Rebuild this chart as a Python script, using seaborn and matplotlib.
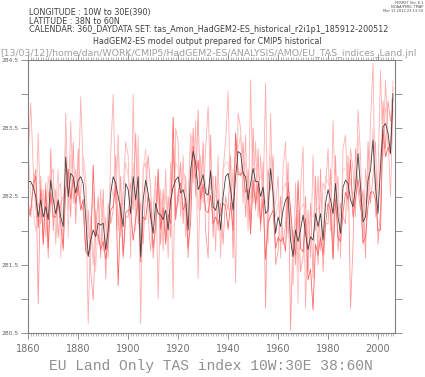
import numpy as np
import pandas as pd
import matplotlib
matplotlib.use("Agg")
import matplotlib.pyplot as plt
from matplotlib.ticker import MultipleLocator
import seaborn as sns

# annual values, 1860-2006 (K)
years = list(range(1860, 2007))

ens_mean = [
    282.72, 282.72, 282.64, 282.50, 282.20, 282.45, 282.20, 282.35, 282.16, 282.74,
    282.45, 282.25, 282.45, 282.20, 282.06, 283.08, 282.50, 282.84, 282.79, 282.55,
    282.74, 282.79, 282.69, 282.20, 281.62, 281.86, 282.01, 281.91, 282.11, 282.08,
    282.11, 281.72, 282.01, 282.55, 282.79, 282.69, 282.50, 282.30, 282.06, 282.69,
    282.60, 282.25, 282.79, 282.45, 282.79, 281.62, 282.45, 282.74, 282.55, 282.20,
    281.96, 282.40, 282.25, 282.23, 282.16, 282.30, 282.01, 282.45, 282.64, 282.74,
    282.79, 282.55, 282.60, 282.45, 282.01, 282.89, 283.16, 282.99, 282.60, 282.69,
    282.82, 282.55, 282.52, 282.88, 282.35, 282.30, 282.45, 282.01, 282.50, 282.79,
    282.84, 282.60, 282.30, 282.79, 283.16, 283.13, 282.84, 282.79, 282.45, 282.69,
    282.91, 282.72, 282.72, 282.50, 282.64, 282.25, 282.30, 282.91, 282.55, 281.96,
    282.20, 282.06, 282.30, 282.45, 282.50, 281.86, 281.62, 282.01, 281.84, 282.01,
    282.23, 281.96, 281.72, 281.91, 281.86, 282.25, 282.06, 282.25, 281.86, 282.40,
    282.60, 282.45, 282.25, 282.69, 282.20, 281.96, 282.64, 282.74, 282.69, 282.45,
    282.35, 282.64, 283.13, 282.64, 282.13, 282.20, 282.74, 282.89, 283.33, 282.64,
    282.25, 282.94, 283.52, 283.57, 283.43, 283.13, 284.01,
]

member_1 = [
    283.10, 283.87, 282.90, 282.30, 283.43, 282.10, 282.60, 281.90, 282.50, 282.80,
    282.90, 281.80, 282.60, 282.70, 281.70, 283.72, 282.30, 283.60, 282.40, 282.90,
    282.50, 283.96, 282.90, 282.60, 280.64, 282.20, 281.50, 282.30, 281.80, 282.60,
    281.70, 282.20, 281.60, 283.10, 284.00, 282.40, 283.40, 281.90, 282.60, 283.30,
    283.10, 281.60, 284.00, 282.20, 283.20, 280.64, 282.90, 283.00, 282.20, 281.70,
    282.30, 282.80, 281.00, 282.60, 281.70, 282.90, 281.60, 283.00, 281.00, 283.50,
    283.30, 282.20, 283.10, 281.90, 282.50, 283.40, 282.70, 283.60, 281.30, 283.10,
    282.40, 283.20, 283.82, 282.60, 282.80, 281.70, 283.10, 281.60, 282.90, 283.30,
    284.04, 282.30, 282.90, 281.23, 283.72, 283.50, 282.40, 283.40, 282.00, 284.21,
    282.40, 283.30, 282.20, 283.10, 282.40, 284.16, 281.80, 283.72, 282.30, 282.40,
    282.80, 281.60, 282.90, 283.30, 281.90, 282.40, 281.20, 282.70, 281.40, 282.60,
    283.23, 280.86, 282.30, 281.60, 283.10, 282.00, 282.80, 281.70, 282.70, 282.60,
    283.20, 282.00, 283.62, 282.40, 282.80, 281.60, 283.20, 283.40, 282.30, 283.20,
    282.90, 282.20, 283.77, 283.10, 281.80, 282.90, 282.40, 283.60, 284.45, 282.20,
    282.80, 284.35, 283.10, 284.20, 283.40, 282.50, 283.80,
]

member_2 = [
    282.40, 282.20, 282.70, 282.90, 280.93, 282.80, 281.80, 282.70, 281.60, 283.20,
    282.00, 282.60, 281.90, 282.40, 282.50, 282.60, 282.90, 282.20, 283.30, 282.10,
    283.20, 282.40, 282.30, 281.70, 282.30, 281.40, 280.98, 282.00, 282.50, 281.60,
    282.60, 281.30, 282.40, 282.10, 282.30, 283.10, 282.00, 282.80, 281.60, 282.20,
    282.20, 282.70, 282.30, 283.43, 282.10, 282.40, 281.80, 282.60, 283.10, 282.60,
    281.60, 282.10, 282.70, 281.80, 282.60, 281.90, 282.50, 281.90, 283.20, 282.30,
    282.40, 283.00, 282.10, 282.80, 281.60, 282.60, 283.50, 282.50, 283.77, 282.30,
    283.30, 282.00, 281.60, 283.40, 281.90, 282.80, 282.00, 282.40, 281.80, 282.50,
    282.30, 283.10, 281.60, 283.40, 282.90, 282.80, 283.30, 282.20, 282.90, 282.10,
    283.50, 282.30, 283.20, 282.00, 283.00, 280.86, 282.90, 282.60, 283.10, 281.50,
    281.70, 282.50, 281.80, 282.10, 283.00, 280.54, 282.00, 281.50, 282.30, 281.40,
    281.60, 282.50, 281.40, 282.40, 281.30, 282.80, 281.50, 282.90, 281.40, 282.10,
    282.10, 282.90, 281.60, 283.10, 281.70, 282.40, 282.20, 282.10, 283.10, 280.86,
    281.80, 283.20, 282.60, 282.30, 282.60, 281.60, 283.30, 282.40, 282.80, 283.30,
    281.80, 282.30, 283.90, 283.20, 283.90, 283.60, 284.10,
]

member_3 = [
    283.20, 282.50, 282.30, 282.00, 282.40, 282.30, 282.60, 282.20, 282.80, 282.40,
    282.70, 282.40, 282.90, 281.60, 282.30, 283.40, 281.90, 283.10, 282.70, 282.80,
    282.60, 282.50, 283.10, 282.80, 281.90, 282.10, 282.60, 281.40, 282.20, 282.40,
    282.30, 281.80, 282.20, 282.70, 282.50, 282.60, 283.40, 282.10, 282.40, 283.00,
    282.80, 282.40, 283.00, 282.00, 283.40, 281.90, 282.90, 283.20, 282.40, 282.10,
    282.20, 282.60, 282.40, 282.50, 282.00, 282.60, 281.70, 282.80, 282.70, 283.00,
    282.90, 282.30, 282.90, 282.70, 282.20, 283.43, 283.20, 283.10, 282.30, 282.90,
    282.90, 282.70, 282.40, 283.00, 282.60, 282.50, 282.60, 281.80, 282.90, 283.00,
    283.00, 282.60, 282.70, 283.10, 283.20, 283.40, 282.80, 283.00, 282.30, 282.50,
    283.00, 282.90, 282.80, 282.80, 282.70, 282.40, 282.40, 283.10, 282.50, 282.20,
    282.40, 282.30, 282.60, 282.70, 282.40, 282.20, 281.40, 282.20, 280.93, 282.30,
    282.40, 282.30, 281.90, 282.20, 282.20, 282.40, 282.30, 282.50, 281.70, 282.80,
    282.70, 282.60, 282.20, 282.80, 282.40, 282.00, 282.90, 282.90, 282.90, 282.70,
    282.50, 282.70, 283.40, 282.70, 282.30, 282.40, 282.90, 283.00, 283.50, 282.60,
    282.40, 283.10, 283.60, 283.80, 283.20, 283.30, 284.20,
]

member_4 = [
    282.20, 282.30, 282.66, 282.80, 282.04, 282.60, 281.80, 282.60, 281.74, 282.56,
    282.20, 282.20, 282.40, 282.10, 281.74, 282.60, 282.90, 282.46, 282.76, 282.40,
    282.66, 282.30, 282.46, 281.70, 281.64, 281.74, 282.96, 281.94, 281.94, 281.72,
    281.84, 281.58, 281.84, 282.30, 282.36, 282.66, 281.20, 282.40, 281.64, 282.26,
    282.30, 282.30, 281.86, 282.17, 282.46, 281.54, 282.20, 282.16, 282.50, 282.40,
    281.74, 282.10, 282.90, 282.02, 282.34, 281.80, 282.24, 282.10, 283.66, 282.16,
    282.56, 282.70, 282.30, 282.40, 281.74, 282.13, 283.24, 282.76, 283.03, 282.46,
    282.68, 282.30, 282.26, 282.52, 282.10, 282.20, 282.10, 282.24, 282.40, 282.36,
    282.02, 282.40, 282.00, 283.43, 282.82, 282.82, 282.86, 282.56, 282.60, 281.95,
    282.74, 282.38, 282.68, 282.10, 282.46, 281.58, 282.10, 282.22, 282.30, 281.74,
    281.90, 281.84, 281.90, 281.70, 282.70, 282.30, 281.88, 281.64, 282.73, 281.74,
    281.69, 282.18, 281.28, 281.44, 280.84, 281.80, 281.64, 281.90, 281.64, 282.10,
    282.40, 282.30, 281.58, 282.46, 281.90, 281.84, 282.26, 282.56, 282.46, 283.04,
    282.20, 282.46, 282.75, 282.46, 281.82, 281.90, 282.36, 282.56, 282.57, 282.46,
    282.00, 282.01, 283.48, 283.08, 283.22, 283.12, 283.94,
]

members = {"r1": member_1, "r2": member_2, "r3": member_3, "r4": member_4}
member_colors = {"r1": "#ffb0b0", "r2": "#ff9a9a", "r3": "#ffc4c4", "r4": "#ff6464"}

long_df = pd.concat(
    [pd.DataFrame({"year": years, "tas": vals, "member": name}) for name, vals in members.items()],
    ignore_index=True,
)
mean_df = pd.DataFrame({"year": years, "tas": ens_mean})

sns.set_style("white")
plt.rcParams["font.family"] = ["DejaVu Sans"]

fig = plt.figure(figsize=(4.25, 3.77), dpi=100)
ax = fig.add_axes([28 / 425, 1 - 333 / 377, 367 / 425, 273 / 377])

sns.lineplot(data=long_df, x="year", y="tas", hue="member", palette=member_colors,
             linewidth=0.6, legend=False, ax=ax)
sns.lineplot(data=mean_df, x="year", y="tas", color="#404040", linewidth=0.6, ax=ax)

ax.set_xlim(1859.9, 2006.8)
ax.set_ylim(280.5, 284.5)
ax.set_xlabel("")
ax.set_ylabel("")

# axis styling (ferret-like)
for s in ax.spines.values():
    s.set_color("#808080")
    s.set_linewidth(0.8)
ax.xaxis.set_major_locator(MultipleLocator(20))
ax.xaxis.set_minor_locator(MultipleLocator(1))
ax.yaxis.set_major_locator(MultipleLocator(0.5))
ax.tick_params(axis="x", which="major", direction="out", length=4, width=0.6, color="#808080",
               top=True, bottom=True, labelsize=7, labelcolor="#707070", pad=4)
ax.tick_params(axis="x", which="minor", direction="out", length=2, width=0.4, color="#808080",
               top=True, bottom=True)
ax.tick_params(axis="y", which="major", direction="out", length=5, width=0.6, color="#808080",
               left=True, right=True, labelsize=4.3, labelcolor="#606060", pad=2)
ylabels = []
for v in ax.get_yticks():
    ylabels.append(f"{v:.1f}" if abs((v - 280.5) % 1.0) < 1e-6 else "")
ax.set_yticks(ax.get_yticks())
ax.set_yticklabels(ylabels)
ax.set_ylim(280.5, 284.5)

# header texts
hdr = dict(fontsize=5.8, color="#404040", ha="left", va="center")
fig.text(29 / 425, 1 - 13 / 377, "LONGITUDE : 10W to 30E(390)", **hdr)
fig.text(29 / 425, 1 - 22 / 377, "LATITUDE : 38N to 60N", **hdr)
fig.text(29 / 425, 1 - 30 / 377,
         "CALENDAR: 360_DAYDATA SET: tas_Amon_HadGEM2-ES_historical_r2i1p1_185912-200512", **hdr)
fig.text(207 / 425, 1 - 42 / 377, "HadGEM2-ES model output prepared for CMIP5 historical",
         fontsize=5.8, color="#404040", ha="center", va="center")
fig.text(0.5 / 425, 1 - 53 / 377,
         "[13/03/12]/home/dan/WORK/CMIP5/HadGEM2-ES/ANALYSIS/AMO/EU_TAS_indices_Land.jnl",
         fontsize=6.75, color="#a0a0a0", ha="left", va="center")

# ferret stamp
stamp = dict(fontsize=2.6, color="#505050", ha="right", va="center")
fig.text(423 / 425, 1 - 3 / 377, "FERRET Ver. 6.1", **stamp)
fig.text(423 / 425, 1 - 7 / 377, "NOAA/PMEL TMAP", **stamp)
fig.text(423 / 425, 1 - 11 / 377, "Mar 13 2012 23:13:34", **stamp)

fig.text(211 / 425, 1 - 366 / 377, "EU Land Only TAS index 10W:30E 38:60N",
         fontsize=10.5, family="Liberation Mono", color="#909090", ha="center", va="center")

fig.savefig("out.png", dpi=100)
